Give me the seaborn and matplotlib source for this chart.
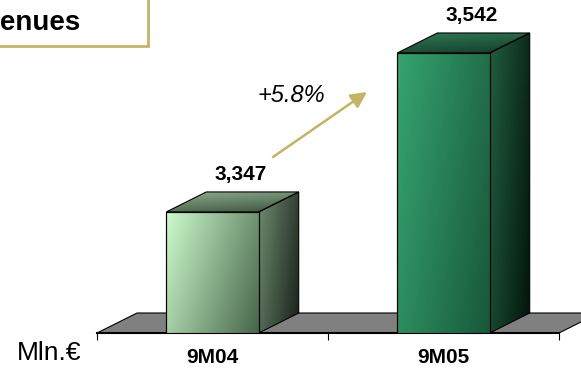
import numpy as np
import pandas as pd
import matplotlib
matplotlib.use("Agg")
import matplotlib.pyplot as plt
import seaborn as sns
from matplotlib.patches import Polygon, Rectangle
from matplotlib.colors import LinearSegmentedColormap

# ---- data ----
categories = ["9M04", "9M05"]
values = [3347, 3542]
value_labels = ["3,347", "3,542"]
growth_label = "+5.8%"
unit_label = "Mln.\u20ac"
title = "Revenues"

# ---- styles ----
front_colors = [("#cdfccd", "#48664a"), ("#36a470", "#18583a")]
side_colors = [("#6e8c6e", "#18201a"), ("#215e3f", "#02130a")]
top_colors = [("#8eac8e", "#3a543c"), ("#2f7c56", "#143a28")]
gold = "#c3b462"

sns.set_theme(style="white")
plt.rcParams['font.family'] = ['Liberation Sans', 'DejaVu Sans']
plt.rcParams['text.color'] = 'black'
plt.rcParams['xtick.color'] = 'black'

W, H = 581, 371
fig = plt.figure(figsize=(W / 100, H / 100), dpi=100)
ax = fig.add_axes([97 / W, 38 / H, 462 / W, 333 / H])

df = pd.DataFrame({"period": categories, "revenue": values})
sns.barplot(data=df, x="period", y="revenue", width=0.4, ax=ax,
            color="white", edgecolor="black", linewidth=0.8, zorder=6)

ylo, yhi = 3198.5, 3607
ax.set_xlim(-0.5, 1.5)
ax.set_ylim(ylo, yhi)

# depth of the 3D effect in pixels -> data units
inv = ax.transData.inverted()
p0 = ax.transData.transform((0, ylo))
d = inv.transform(p0 + np.array([40, 20])) - inv.transform(p0)
ddx, ddy = d


def grad_fill(verts, c0, c1, wx, wy, z, clip_on=True):
    verts = np.asarray(verts, dtype=float)
    poly = Polygon(verts, closed=True, fc="none", ec="black", lw=0.8,
                   zorder=z + 0.1, clip_on=clip_on)
    ax.add_patch(poly)
    gx, gy = np.meshgrid(np.linspace(0, 1, 128), np.linspace(0, 1, 128))
    t = (wx * gx + wy * (1 - gy)) / (wx + wy)
    cmap = LinearSegmentedColormap.from_list("g", [c0, c1])
    xs, ys = verts[:, 0], verts[:, 1]
    im = ax.imshow(t, cmap=cmap, origin="lower", aspect="auto",
                   extent=(xs.min(), xs.max(), ys.min(), ys.max()),
                   zorder=z, interpolation="bilinear", vmin=0, vmax=1)
    im.set_clip_path(poly)
    return poly


# floor
floor = Polygon([(-0.5, ylo), (1.5, ylo), (1.5 + ddx, ylo + ddy), (-0.5 + ddx, ylo + ddy)],
                closed=True, fc="#808080", ec="black", lw=0.8, zorder=1, clip_on=False)
ax.add_patch(floor)

bars = [p for p in ax.patches if p is not floor][:len(values)]
for i, (bar, v) in enumerate(zip(bars, values)):
    bar.set_facecolor("none")
    x0 = bar.get_x()
    x1 = x0 + bar.get_width()
    grad_fill([(x0, ylo), (x1, ylo), (x1, v), (x0, v)],
              front_colors[i][0], front_colors[i][1], 0.7, 0.3, 5)
    grad_fill([(x1, ylo), (x1 + ddx, ylo + ddy), (x1 + ddx, v + ddy), (x1, v)],
              side_colors[i][0], side_colors[i][1], 0.7, 0.3, 4)
    grad_fill([(x0, v), (x1, v), (x1 + ddx, v + ddy), (x0 + ddx, v + ddy)],
              top_colors[i][0], top_colors[i][1], 0.3, 0.7, 4)
    ax.annotate(value_labels[i], xy=(x0 + bar.get_width() / 2, v + ddy),
                xytext=(28, 8), textcoords="offset pixels",
                ha="center", va="bottom", fontsize=15, fontweight="bold",
                color="black", annotation_clip=False)

ax.set_xlim(-0.5, 1.5)
ax.set_ylim(ylo, yhi)

# axes styling
for s in ["left", "top", "right"]:
    ax.spines[s].set_visible(False)
ax.spines["bottom"].set_color("black")
ax.spines["bottom"].set_linewidth(1.5)
ax.spines["bottom"].set_zorder(2)
ax.set_yticks([])
ax.set_xticks([0, 1])
ax.set_xticklabels(categories, fontsize=15, fontweight="bold", color="black")
ax.set_xticks([-0.5, 0.5, 1.5], minor=True)
ax.tick_params(axis="x", which="major", length=0, pad=11)
ax.tick_params(axis="x", which="minor", length=5, width=0.8, color="black",
               direction="out", bottom=True)
ax.set_xlabel("")
ax.set_ylabel("")
ax.patch.set_alpha(0)

# unit label
fig.text(49 / W, (H - 353) / H, unit_label, fontsize=19, color="black",
         ha="center", va="center")

# growth arrow
ax.annotate("", xy=(367, H - 92), xycoords="figure pixels",
            xytext=(273, H - 157), textcoords="figure pixels",
            arrowprops=dict(arrowstyle="-|>", color=gold, lw=1.8,
                            mutation_scale=24, shrinkA=0, shrinkB=0))
fig.text(291 / W, (H - 95) / H, growth_label, fontsize=17, style="italic",
         color="black", ha="center", va="center")

# title box
box = Rectangle((-10 / W, (H - 46) / H), 158 / W, 60 / H, transform=fig.transFigure,
                fc="white", ec=gold, lw=2, zorder=10)
fig.patches.append(box)
fig.text(80 / W, (H - 30) / H, title, fontsize=20, fontweight="bold",
         color="black", ha="right", va="baseline", zorder=11)

fig.savefig("out.png", dpi=100)
